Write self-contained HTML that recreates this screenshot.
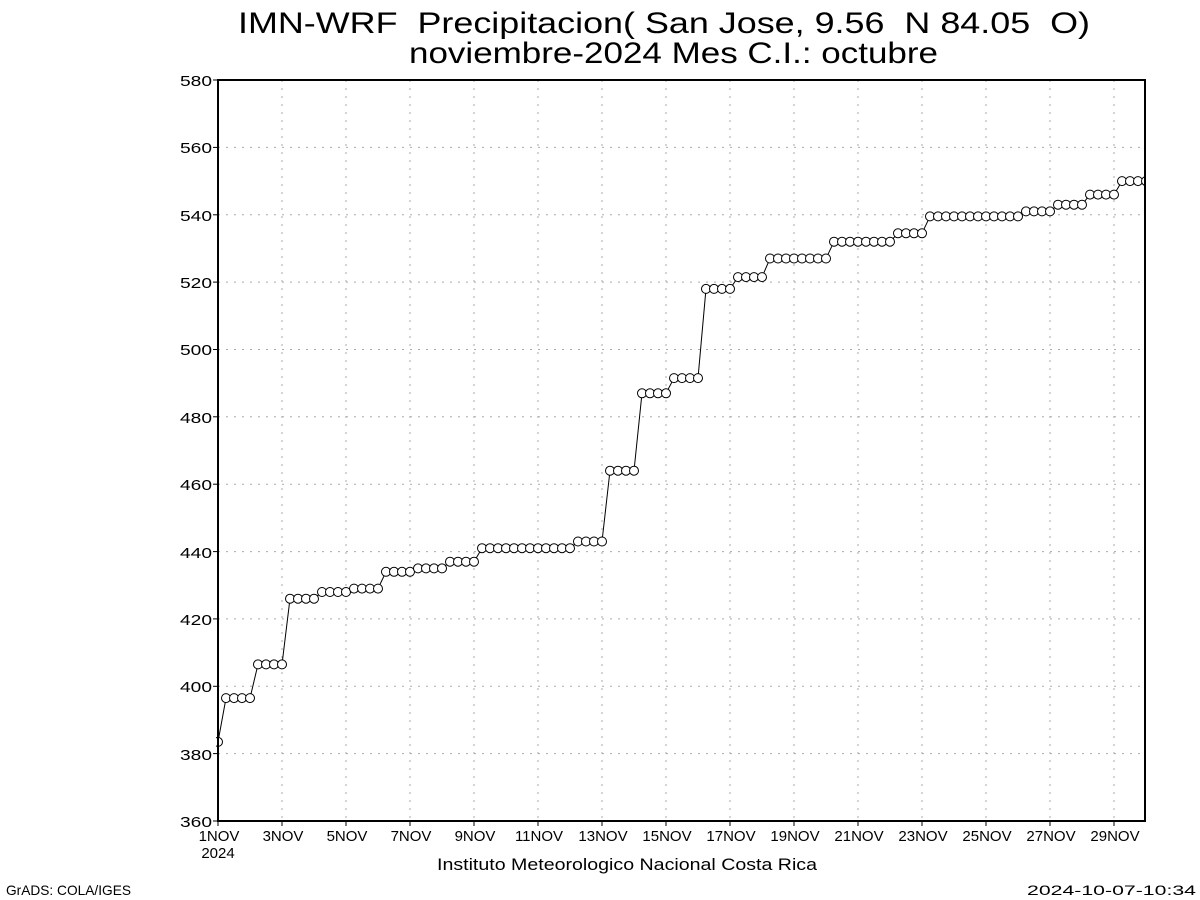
<!DOCTYPE html>
<html><head><meta charset="utf-8"><style>body{margin:0;background:#fff}svg{display:block}text{font-family:"Liberation Sans","DejaVu Sans",sans-serif;fill:#000;white-space:pre}</style></head><body>
<svg width="1200" height="900" xmlns="http://www.w3.org/2000/svg">
<rect width="1200" height="900" fill="#fff"/>
<text x="238" y="33" font-size="30" textLength="852" lengthAdjust="spacingAndGlyphs">IMN-WRF  Precipitacion( San Jose, 9.56  N 84.05  O)</text>
<text x="409" y="63" font-size="30" textLength="529" lengthAdjust="spacingAndGlyphs">noviembre-2024 Mes C.I.: octubre</text>
<g stroke="#aaa" stroke-width="1" stroke-dasharray="2,6">
<line x1="218" x2="1145" y1="147.4" y2="147.4"/><line x1="218" x2="1145" y1="214.8" y2="214.8"/><line x1="218" x2="1145" y1="282.1" y2="282.1"/><line x1="218" x2="1145" y1="349.5" y2="349.5"/><line x1="218" x2="1145" y1="416.8" y2="416.8"/><line x1="218" x2="1145" y1="484.2" y2="484.2"/><line x1="218" x2="1145" y1="551.6" y2="551.6"/><line x1="218" x2="1145" y1="618.9" y2="618.9"/><line x1="218" x2="1145" y1="686.3" y2="686.3"/><line x1="218" x2="1145" y1="753.6" y2="753.6"/>
<line x1="282" x2="282" y1="80" y2="821"/><line x1="346" x2="346" y1="80" y2="821"/><line x1="410" x2="410" y1="80" y2="821"/><line x1="474" x2="474" y1="80" y2="821"/><line x1="538" x2="538" y1="80" y2="821"/><line x1="602" x2="602" y1="80" y2="821"/><line x1="666" x2="666" y1="80" y2="821"/><line x1="730" x2="730" y1="80" y2="821"/><line x1="794" x2="794" y1="80" y2="821"/><line x1="858" x2="858" y1="80" y2="821"/><line x1="922" x2="922" y1="80" y2="821"/><line x1="986" x2="986" y1="80" y2="821"/><line x1="1050" x2="1050" y1="80" y2="821"/><line x1="1114" x2="1114" y1="80" y2="821"/>
</g>
<g font-size="15" text-anchor="end">
<text x="212" y="86" textLength="32" lengthAdjust="spacingAndGlyphs">580</text><text x="212" y="153" textLength="32" lengthAdjust="spacingAndGlyphs">560</text><text x="212" y="221" textLength="32" lengthAdjust="spacingAndGlyphs">540</text><text x="212" y="288" textLength="32" lengthAdjust="spacingAndGlyphs">520</text><text x="212" y="355" textLength="32" lengthAdjust="spacingAndGlyphs">500</text><text x="212" y="423" textLength="32" lengthAdjust="spacingAndGlyphs">480</text><text x="212" y="490" textLength="32" lengthAdjust="spacingAndGlyphs">460</text><text x="212" y="558" textLength="32" lengthAdjust="spacingAndGlyphs">440</text><text x="212" y="625" textLength="32" lengthAdjust="spacingAndGlyphs">420</text><text x="212" y="692" textLength="32" lengthAdjust="spacingAndGlyphs">400</text><text x="212" y="760" textLength="32" lengthAdjust="spacingAndGlyphs">380</text><text x="212" y="827" textLength="32" lengthAdjust="spacingAndGlyphs">360</text>
</g>
<g stroke="#000" stroke-width="1">
<line x1="213" x2="218" y1="80" y2="80"/><line x1="213" x2="218" y1="147.4" y2="147.4"/><line x1="213" x2="218" y1="214.8" y2="214.8"/><line x1="213" x2="218" y1="282.1" y2="282.1"/><line x1="213" x2="218" y1="349.5" y2="349.5"/><line x1="213" x2="218" y1="416.8" y2="416.8"/><line x1="213" x2="218" y1="484.2" y2="484.2"/><line x1="213" x2="218" y1="551.6" y2="551.6"/><line x1="213" x2="218" y1="618.9" y2="618.9"/><line x1="213" x2="218" y1="686.3" y2="686.3"/><line x1="213" x2="218" y1="753.6" y2="753.6"/><line x1="213" x2="218" y1="821" y2="821"/>
<line x1="218" x2="218" y1="821" y2="826"/><line x1="282" x2="282" y1="821" y2="826"/><line x1="346" x2="346" y1="821" y2="826"/><line x1="410" x2="410" y1="821" y2="826"/><line x1="474" x2="474" y1="821" y2="826"/><line x1="538" x2="538" y1="821" y2="826"/><line x1="602" x2="602" y1="821" y2="826"/><line x1="666" x2="666" y1="821" y2="826"/><line x1="730" x2="730" y1="821" y2="826"/><line x1="794" x2="794" y1="821" y2="826"/><line x1="858" x2="858" y1="821" y2="826"/><line x1="922" x2="922" y1="821" y2="826"/><line x1="986" x2="986" y1="821" y2="826"/><line x1="1050" x2="1050" y1="821" y2="826"/><line x1="1114" x2="1114" y1="821" y2="826"/>
</g>
<g font-size="15" text-anchor="middle">
<text x="219" y="841">1NOV</text><text x="218" y="858">2024</text><text x="283" y="841">3NOV</text><text x="347" y="841">5NOV</text><text x="411" y="841">7NOV</text><text x="475" y="841">9NOV</text><text x="539" y="841">11NOV</text><text x="603" y="841">13NOV</text><text x="667" y="841">15NOV</text><text x="731" y="841">17NOV</text><text x="795" y="841">19NOV</text><text x="859" y="841">21NOV</text><text x="923" y="841">23NOV</text><text x="987" y="841">25NOV</text><text x="1051" y="841">27NOV</text><text x="1115" y="841">29NOV</text>
</g>
<text x="437" y="870" font-size="17" textLength="380" lengthAdjust="spacingAndGlyphs">Instituto Meteorologico Nacional Costa Rica</text>
<text x="6" y="895" font-size="14" textLength="125" lengthAdjust="spacingAndGlyphs">GrADS: COLA/IGES</text>
<text x="1027" y="895" font-size="14" textLength="169" lengthAdjust="spacingAndGlyphs">2024-10-07-10:34</text>
<defs><clipPath id="c"><rect x="216" y="78" width="930" height="746"/></clipPath></defs>
<g clip-path="url(#c)">
<polyline fill="none" stroke="#000" stroke-width="1" points="218,741.9 226,698.1 250,698.1 258,664.4 282,664.4 290,598.7 314,598.7 322,592 346,592 354,588.6 378,588.6 386,571.8 410,571.8 418,568.4 442,568.4 450,561.7 474,561.7 482,548.2 570,548.2 578,541.5 602,541.5 610,470.7 634,470.7 642,393.3 666,393.3 674,378.1 698,378.1 706,288.9 730,288.9 738,277.1 762,277.1 770,258.5 826,258.5 834,241.7 890,241.7 898,233.3 922,233.3 930,216.4 1018,216.4 1026,211.4 1050,211.4 1058,204.7 1082,204.7 1090,194.6 1114,194.6 1122,181.1 1146,181.1"/>
<g fill="#fff" stroke="#000" stroke-width="1">
<circle cx="218" cy="741.9" r="4.5"/>
<circle cx="226" cy="698.1" r="4.5"/><circle cx="234" cy="698.1" r="4.5"/><circle cx="242" cy="698.1" r="4.5"/><circle cx="250" cy="698.1" r="4.5"/>
<circle cx="258" cy="664.4" r="4.5"/><circle cx="266" cy="664.4" r="4.5"/><circle cx="274" cy="664.4" r="4.5"/><circle cx="282" cy="664.4" r="4.5"/>
<circle cx="290" cy="598.7" r="4.5"/><circle cx="298" cy="598.7" r="4.5"/><circle cx="306" cy="598.7" r="4.5"/><circle cx="314" cy="598.7" r="4.5"/>
<circle cx="322" cy="592" r="4.5"/><circle cx="330" cy="592" r="4.5"/><circle cx="338" cy="592" r="4.5"/><circle cx="346" cy="592" r="4.5"/>
<circle cx="354" cy="588.6" r="4.5"/><circle cx="362" cy="588.6" r="4.5"/><circle cx="370" cy="588.6" r="4.5"/><circle cx="378" cy="588.6" r="4.5"/>
<circle cx="386" cy="571.8" r="4.5"/><circle cx="394" cy="571.8" r="4.5"/><circle cx="402" cy="571.8" r="4.5"/><circle cx="410" cy="571.8" r="4.5"/>
<circle cx="418" cy="568.4" r="4.5"/><circle cx="426" cy="568.4" r="4.5"/><circle cx="434" cy="568.4" r="4.5"/><circle cx="442" cy="568.4" r="4.5"/>
<circle cx="450" cy="561.7" r="4.5"/><circle cx="458" cy="561.7" r="4.5"/><circle cx="466" cy="561.7" r="4.5"/><circle cx="474" cy="561.7" r="4.5"/>
<circle cx="482" cy="548.2" r="4.5"/><circle cx="490" cy="548.2" r="4.5"/><circle cx="498" cy="548.2" r="4.5"/><circle cx="506" cy="548.2" r="4.5"/><circle cx="514" cy="548.2" r="4.5"/><circle cx="522" cy="548.2" r="4.5"/><circle cx="530" cy="548.2" r="4.5"/><circle cx="538" cy="548.2" r="4.5"/><circle cx="546" cy="548.2" r="4.5"/><circle cx="554" cy="548.2" r="4.5"/><circle cx="562" cy="548.2" r="4.5"/><circle cx="570" cy="548.2" r="4.5"/>
<circle cx="578" cy="541.5" r="4.5"/><circle cx="586" cy="541.5" r="4.5"/><circle cx="594" cy="541.5" r="4.5"/><circle cx="602" cy="541.5" r="4.5"/>
<circle cx="610" cy="470.7" r="4.5"/><circle cx="618" cy="470.7" r="4.5"/><circle cx="626" cy="470.7" r="4.5"/><circle cx="634" cy="470.7" r="4.5"/>
<circle cx="642" cy="393.3" r="4.5"/><circle cx="650" cy="393.3" r="4.5"/><circle cx="658" cy="393.3" r="4.5"/><circle cx="666" cy="393.3" r="4.5"/>
<circle cx="674" cy="378.1" r="4.5"/><circle cx="682" cy="378.1" r="4.5"/><circle cx="690" cy="378.1" r="4.5"/><circle cx="698" cy="378.1" r="4.5"/>
<circle cx="706" cy="288.9" r="4.5"/><circle cx="714" cy="288.9" r="4.5"/><circle cx="722" cy="288.9" r="4.5"/><circle cx="730" cy="288.9" r="4.5"/>
<circle cx="738" cy="277.1" r="4.5"/><circle cx="746" cy="277.1" r="4.5"/><circle cx="754" cy="277.1" r="4.5"/><circle cx="762" cy="277.1" r="4.5"/>
<circle cx="770" cy="258.5" r="4.5"/><circle cx="778" cy="258.5" r="4.5"/><circle cx="786" cy="258.5" r="4.5"/><circle cx="794" cy="258.5" r="4.5"/><circle cx="802" cy="258.5" r="4.5"/><circle cx="810" cy="258.5" r="4.5"/><circle cx="818" cy="258.5" r="4.5"/><circle cx="826" cy="258.5" r="4.5"/>
<circle cx="834" cy="241.7" r="4.5"/><circle cx="842" cy="241.7" r="4.5"/><circle cx="850" cy="241.7" r="4.5"/><circle cx="858" cy="241.7" r="4.5"/><circle cx="866" cy="241.7" r="4.5"/><circle cx="874" cy="241.7" r="4.5"/><circle cx="882" cy="241.7" r="4.5"/><circle cx="890" cy="241.7" r="4.5"/>
<circle cx="898" cy="233.3" r="4.5"/><circle cx="906" cy="233.3" r="4.5"/><circle cx="914" cy="233.3" r="4.5"/><circle cx="922" cy="233.3" r="4.5"/>
<circle cx="930" cy="216.4" r="4.5"/><circle cx="938" cy="216.4" r="4.5"/><circle cx="946" cy="216.4" r="4.5"/><circle cx="954" cy="216.4" r="4.5"/><circle cx="962" cy="216.4" r="4.5"/><circle cx="970" cy="216.4" r="4.5"/><circle cx="978" cy="216.4" r="4.5"/><circle cx="986" cy="216.4" r="4.5"/><circle cx="994" cy="216.4" r="4.5"/><circle cx="1002" cy="216.4" r="4.5"/><circle cx="1010" cy="216.4" r="4.5"/><circle cx="1018" cy="216.4" r="4.5"/>
<circle cx="1026" cy="211.4" r="4.5"/><circle cx="1034" cy="211.4" r="4.5"/><circle cx="1042" cy="211.4" r="4.5"/><circle cx="1050" cy="211.4" r="4.5"/>
<circle cx="1058" cy="204.7" r="4.5"/><circle cx="1066" cy="204.7" r="4.5"/><circle cx="1074" cy="204.7" r="4.5"/><circle cx="1082" cy="204.7" r="4.5"/>
<circle cx="1090" cy="194.6" r="4.5"/><circle cx="1098" cy="194.6" r="4.5"/><circle cx="1106" cy="194.6" r="4.5"/><circle cx="1114" cy="194.6" r="4.5"/>
<circle cx="1122" cy="181.1" r="4.5"/><circle cx="1130" cy="181.1" r="4.5"/><circle cx="1138" cy="181.1" r="4.5"/><circle cx="1146" cy="181.1" r="4.5"/>
</g></g>
<rect x="218" y="80" width="927" height="741" fill="none" stroke="#000" stroke-width="2"/>
</svg>
</body></html>
